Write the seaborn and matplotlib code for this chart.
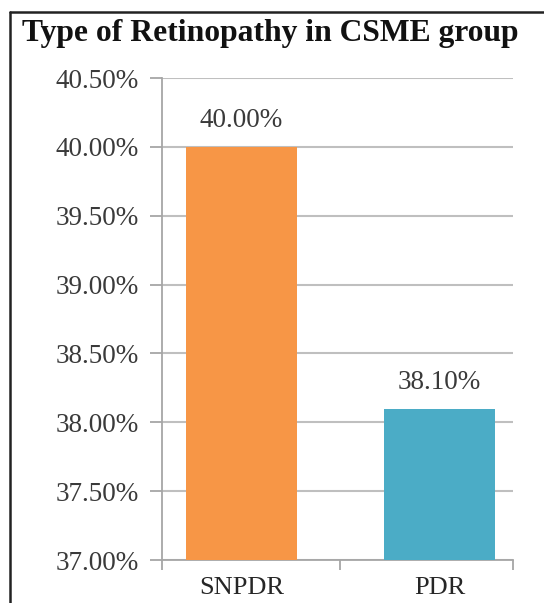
import matplotlib
matplotlib.use("Agg")
import matplotlib.pyplot as plt
from matplotlib.lines import Line2D
from matplotlib.ticker import FixedLocator, NullFormatter
import seaborn as sns
import pandas as pd

categories = ["SNPDR", "PDR"]
values = [40.00, 38.10]
bar_colors = ["#F79646", "#4BACC6"]
y_ticks = [37.0, 37.5, 38.0, 38.5, 39.0, 39.5, 40.0, 40.5]
title = "Type of Retinopathy in CSME group"

sns.set_theme(style="white")
plt.rcParams["font.family"] = ["Liberation Serif", "DejaVu Serif"]

df = pd.DataFrame({"type": categories, "pct": values})

fig = plt.figure(figsize=(5.44, 6.03), dpi=100)
ax = fig.add_axes([162/544, 1-560/603, (513-162)/544, (560-78)/603])

sns.barplot(data=df, x="type", y="pct", hue="type", palette=bar_colors,
            legend=False, width=0.56, ax=ax, saturation=1, zorder=3,
            linewidth=0)

ax.set_ylim(37.0, 40.5)
ax.set_xlim(-0.40, 1.37)
ax.set_yticks(y_ticks)
ax.set_yticklabels([f"{t:.2f}%" for t in y_ticks], fontsize=19.5, color="#3a3a3a")
ax.yaxis.grid(True, color="#BFBFBF", linewidth=1.5, zorder=0)
ax.xaxis.grid(False)
ax.tick_params(axis="y", which="major", length=9, width=1.3, color="#A6A6A6",
               left=True, pad=8)
ax.set_xticks([0, 1])
ax.set_xticklabels(categories, fontsize=19, color="#262626")
ax.tick_params(axis="x", which="major", length=0, pad=12)
ax.xaxis.set_minor_locator(FixedLocator([-0.40, 0.5, 1.37]))
ax.xaxis.set_minor_formatter(NullFormatter())
ax.tick_params(axis="x", which="minor", length=7, width=1.3, color="#A6A6A6",
               bottom=True)
ax.set_xlabel("")
ax.set_ylabel("")
for s in ["top", "right"]:
    ax.spines[s].set_visible(False)
for s in ["left", "bottom"]:
    ax.spines[s].set_color("#A6A6A6")
    ax.spines[s].set_linewidth(1.3)

for cont in ax.containers:
    ax.bar_label(cont, labels=[f"{v:.2f}%" for v in cont.datavalues],
                 padding=10, fontsize=19.5, color="#3a3a3a")

fig.text(22/544, 1-41/603, title, fontsize=22.8, fontweight="bold",
         color="#111111", ha="left", va="baseline")

fig.add_artist(Line2D([10/544, 10/544], [0, 1-12/603], color="#222222",
                      linewidth=1.8, transform=fig.transFigure))
fig.add_artist(Line2D([10/544, 1], [1-12/603, 1-12/603], color="#222222",
                      linewidth=1.8, transform=fig.transFigure))

fig.savefig("out.png", dpi=100, facecolor="white")
